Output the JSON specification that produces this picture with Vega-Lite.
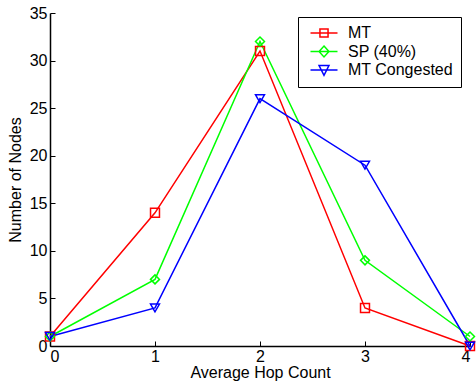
{
  "$schema": "https://vega.github.io/schema/vega-lite/v6.json",
  "width": 420,
  "height": 333,
  "autosize": {"type": "none"},
  "padding": {"left": 50, "top": 13, "right": 6, "bottom": 43},
  "background": "white",
  "config": {
    "view": {"stroke": null},
    "font": "Liberation Sans",
    "axis": {
      "grid": false,
      "domainColor": "black",
      "domainWidth": 1.5,
      "tickColor": "black",
      "tickWidth": 1,
      "tickSize": -5,
      "labelFont": "Liberation Sans",
      "labelFontSize": 16,
      "labelColor": "black",
      "titleFont": "Liberation Sans",
      "titleFontSize": 16,
      "titleFontWeight": "normal",
      "titleColor": "black"
    },
    "legend": {
      "title": null,
      "orient": "none",
      "legendX": 248,
      "legendY": 4,
      "padding": 8,
      "strokeColor": "black",
      "fillColor": "white",
      "labelFontSize": 16,
      "labelFont": "Liberation Sans",
      "labelColor": "black",
      "symbolSize": 81,
      "symbolOffset": 10,
      "labelOffset": 16,
      "rowPadding": 1.5,
      "symbolStrokeWidth": 1.5
    }
  },
  "data": {
    "values": [
      {"hop": 0, "nodes": 1, "series": "MT"},
      {"hop": 1, "nodes": 14, "series": "MT"},
      {"hop": 2, "nodes": 31, "series": "MT"},
      {"hop": 3, "nodes": 4, "series": "MT"},
      {"hop": 4, "nodes": 0, "series": "MT"},
      {"hop": 0, "nodes": 1, "series": "SP (40%)"},
      {"hop": 1, "nodes": 7, "series": "SP (40%)"},
      {"hop": 2, "nodes": 32, "series": "SP (40%)"},
      {"hop": 3, "nodes": 9, "series": "SP (40%)"},
      {"hop": 4, "nodes": 1, "series": "SP (40%)"},
      {"hop": 0, "nodes": 1, "series": "MT Congested"},
      {"hop": 1, "nodes": 4, "series": "MT Congested"},
      {"hop": 2, "nodes": 26, "series": "MT Congested"},
      {"hop": 3, "nodes": 19, "series": "MT Congested"},
      {"hop": 4, "nodes": 0, "series": "MT Congested"}
    ]
  },
  "encoding": {
    "x": {
      "field": "hop", "type": "quantitative",
      "scale": {"domain": [0, 4], "nice": false, "zero": false},
      "axis": {"values": [0, 1, 2, 3, 4], "labelPadding": 7, "title": "Average Hop Count", "titlePadding": 0, "format": "d"}
    },
    "y": {
      "field": "nodes", "type": "quantitative",
      "scale": {"domain": [0, 35], "nice": false},
      "axis": {"values": [0, 5, 10, 15, 20, 25, 30, 35], "labelPadding": 8, "title": "Number of Nodes", "titlePadding": 6}
    },
    "color": {
      "field": "series", "type": "nominal",
      "scale": {"domain": ["MT", "SP (40%)", "MT Congested"], "range": ["#ff0000", "#00ff00", "#0000ff"]},
      "legend": null
    }
  },
  "resolve": {
    "scale": {"shape": "independent", "color": "independent"},
    "legend": {"shape": "independent", "color": "independent"}
  },
  "layer": [
    {
      "mark": {"type": "line", "strokeWidth": 1.5, "clip": false}
    },
    {
      "mark": {"type": "point", "filled": false, "strokeWidth": 1.5, "size": 80, "opacity": 1, "clip": false},
      "encoding": {
        "shape": {
          "field": "series", "type": "nominal",
          "scale": {"domain": ["MT", "SP (40%)", "MT Congested"], "range": ["square", "diamond", "triangle-down"]},
          "legend": null
        }
      }
    },
    {
      "transform": [{"filter": "datum.hop < 0"}],
      "mark": {"type": "point", "filled": false, "strokeWidth": 1.5, "size": 81, "opacity": 1},
      "encoding": {
        "shape": {
          "field": "series", "type": "nominal",
          "scale": {"domain": ["MT", "SP (40%)", "MT Congested"], "range": ["M-3,0H3M-0.9,-0.9H0.9V0.9H-0.9Z", "M-3,0H3M0,-1.2L1.1,0L0,1.2L-1.1,0Z", "M-3,0H3M-1.1,-1H1.1L0,1.2Z"]},
          "legend": {}
        },
        "color": {
          "field": "series", "type": "nominal",
          "scale": {"domain": ["MT", "SP (40%)", "MT Congested"], "range": ["#ff0000", "#00ff00", "#0000ff"]},
          "legend": {}
        }
      }
    }
  ]
}
